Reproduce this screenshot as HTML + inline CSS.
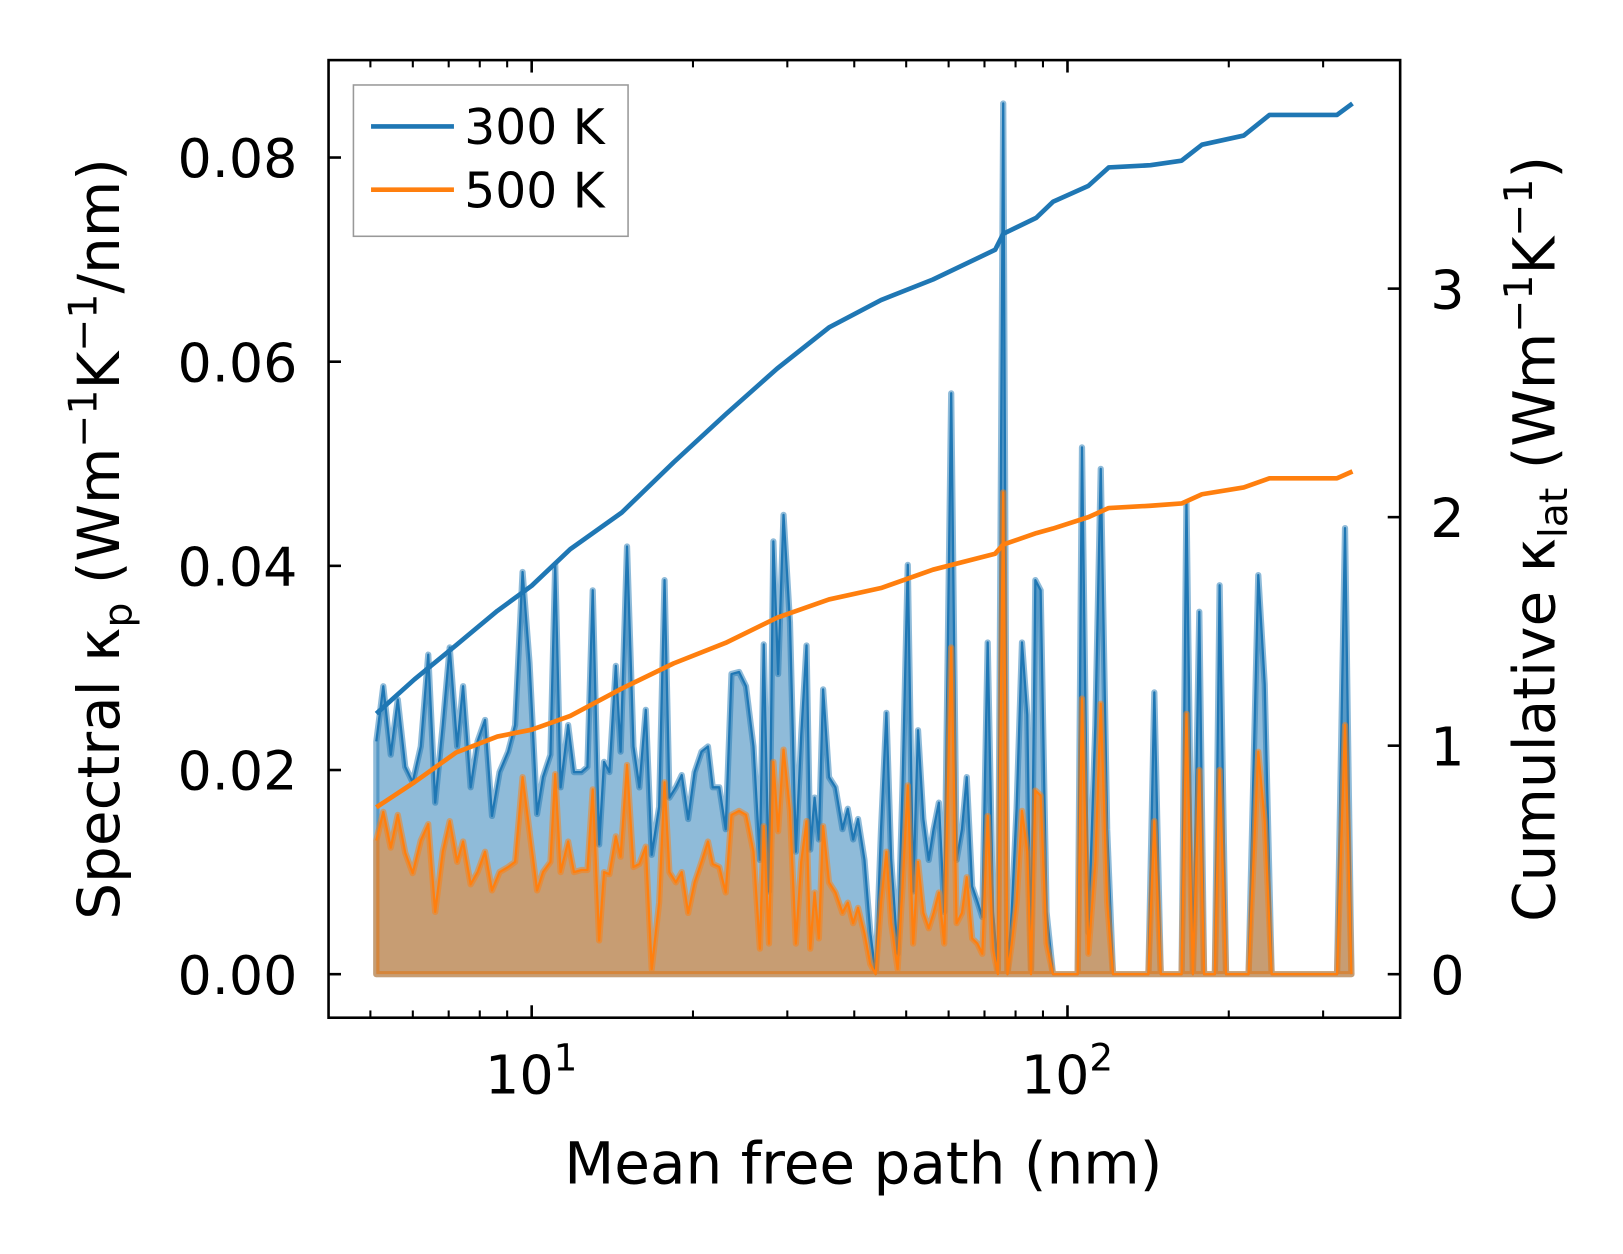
<!DOCTYPE html>
<html><head><meta charset="utf-8"><style>
html,body{margin:0;padding:0;background:#fff}
svg{display:block}
text{font-family:"DejaVu Sans","Liberation Sans",sans-serif;fill:#000}
</style></head><body>
<svg id="chart" width="1623" height="1254" viewBox="0 0 1566 1210" xmlns="http://www.w3.org/2000/svg">
<g id="marks"></g>
<g id="axes"></g>
</svg>
<script>
// spectral data: log10 of mean free path (nm)
const specLogMfp = [0.710,0.723,0.737,0.750,0.764,0.778,0.793,0.807,0.820,0.834,0.847,0.861,0.872,0.886,0.899,0.913,0.926,0.940,0.956,0.969,0.983,0.996,1.010,1.021,1.035,1.044,1.054,1.068,1.079,1.093,1.104,1.114,1.126,1.135,1.145,1.157,1.166,1.178,1.190,1.201,1.213,1.224,1.238,1.248,1.257,1.269,1.280,1.292,1.304,1.317,1.329,1.338,1.350,1.362,1.373,1.387,1.400,1.414,1.426,1.433,1.443,1.451,1.460,1.470,1.482,1.493,1.503,1.513,1.520,1.528,1.536,1.544,1.555,1.567,1.580,1.590,1.600,1.609,1.621,1.632,1.642,1.652,1.662,1.671,1.683,1.692,1.702,1.712,1.721,1.731,1.741,1.750,1.760,1.770,1.783,1.793,1.803,1.812,1.822,1.832,1.841,1.851,1.861,1.870,1.880,1.888,1.896,1.905,1.915,1.925,1.932,1.940,1.950,1.961,1.973,2.019,2.027,2.039,2.052,2.062,2.074,2.085,2.151,2.162,2.174,2.213,2.222,2.234,2.246,2.255,2.275,2.284,2.296,2.338,2.356,2.368,2.381,2.503,2.518,2.530];
const spec300 = [.0228,.0282,.0215,.0269,.0203,.0188,.0223,.0313,.0168,.0244,.0320,.0223,.0282,.0183,.0228,.0249,.0155,.0198,.0218,.0244,.0394,.0305,.0157,.0193,.0215,.0401,.0183,.0244,.0198,.0198,.0203,.0376,.0127,.0208,.0198,.0302,.0218,.0419,.0223,.0183,.0259,.0117,.0164,.0386,.0173,.0183,.0195,.0152,.0198,.0218,.0223,.0183,.0183,.0142,.0294,.0296,.0282,.0223,.0112,.0323,.0081,.0424,.0294,.0450,.0345,.0120,.0234,.0322,.0122,.0173,.0132,.0279,.0193,.0183,.0142,.0162,.0132,.0152,.0112,.0041,0,.0142,.0256,.0112,.0020,.0183,.0401,.0081,.0239,.0152,.0112,.0142,.0168,.0061,.0569,.0112,.0142,.0193,.0086,.0071,.0056,.0325,.0061,.0005,.0853,0,.0061,.0162,.0325,.0254,.0005,.0386,.0376,.0061,0,0,.0516,.0041,.0244,.0495,.0142,0,0,.0276,0,0,.0462,0,.0355,0,0,.0381,0,0,.0391,.0284,0,0,.0437,0];
const spec500 = [.0131,.0159,.0124,.0156,.0119,.0099,.0131,.0147,.0061,.0120,.0150,.0110,.0130,.0088,.0100,.0120,.0082,.0100,.0105,.0110,.0193,.0140,.0082,.0100,.0110,.0196,.0100,.0130,.0100,.0102,.0102,.0181,.0033,.0100,.0098,.0135,.0115,.0205,.0105,.0108,.0125,.0005,.0070,.0188,.0100,.0090,.0100,.0060,.0090,.0110,.0130,.0108,.0105,.0080,.0156,.0160,.0156,.0120,.0025,.0145,.0030,.0208,.0140,.0220,.0160,.0030,.0110,.0150,.0025,.0080,.0035,.0145,.0090,.0080,.0060,.0070,.0050,.0065,.0040,.0010,0,.0070,.0120,.0050,.0005,.0085,.0185,.0030,.0110,.0060,.0045,.0060,.0080,.0030,.0320,.0050,.0060,.0095,.0035,.0030,.0020,.0155,.0025,0,.0472,0,.0030,.0070,.0160,.0120,0,.0180,.0175,.0030,0,0,.0270,.0020,.0110,.0265,.0070,0,0,.0150,0,0,.0255,0,.0200,0,0,.0200,0,0,.0218,.0150,0,0,.0244,0];
// cumulative data
const cumLogMfp = [0.710,0.781,0.859,0.936,1.000,1.072,1.168,1.265,1.362,1.458,1.555,1.652,1.749,1.865,1.880,1.942,1.973,2.039,2.077,2.155,2.213,2.251,2.329,2.377,2.503,2.532];
const cum300 = [1.14,1.29,1.44,1.59,1.70,1.86,2.02,2.24,2.45,2.65,2.83,2.95,3.04,3.17,3.24,3.31,3.38,3.45,3.53,3.54,3.56,3.63,3.67,3.76,3.76,3.81];
const cum500 = [0.73,0.84,0.97,1.04,1.07,1.13,1.25,1.36,1.45,1.56,1.64,1.69,1.77,1.84,1.88,1.93,1.95,2.00,2.04,2.05,2.06,2.10,2.13,2.17,2.17,2.20];
const leftTicks = [0,0.02,0.04,0.06,0.08];
const leftTickLabels = ["0.00","0.02","0.04","0.06","0.08"];
const rightTicks = [0,1,2,3];
const xMajor = [10,100];
const xMinor = [5,6,7,8,9,20,30,40,50,60,70,80,90,200,300];

const NS="http://www.w3.org/2000/svg";
const L=317,R=1351,T=58,B=982;
function xs(logv){return 513+(logv-1)*517;}
function yl(v){return 940-v/0.02*197;}
function yr(v){return 940-v*220.5;}
function mk(tag,attrs,parent,txt){const e=document.createElementNS(NS,tag);for(const k in attrs)e.setAttribute(k,attrs[k]);if(txt!==undefined)e.textContent=txt;parent.appendChild(e);return e;}
const marks=document.getElementById('marks'), axes=document.getElementById('axes');

function area(vals,fill,stroke,name){
  let d="M"+xs(specLogMfp[0])+","+yl(0);
  for(let i=0;i<vals.length;i++) d+=" L"+xs(specLogMfp[i]).toFixed(1)+","+yl(vals[i]).toFixed(1);
  d+=" L"+xs(specLogMfp[specLogMfp.length-1])+","+yl(0)+"Z";
  const p=mk('path',{d:d,fill:fill,stroke:stroke,'stroke-width':6,'stroke-linejoin':'round'},marks);
  
  
  let ld="";
  for(let i=0;i<vals.length;i++) ld+=(i?" L":"M")+xs(specLogMfp[i]).toFixed(1)+","+yl(vals[i]).toFixed(1);
  const l=mk('path',{d:ld,fill:'none',stroke:name==='spectral-300k'?'#1f77b4':'#ff7f0e','stroke-width':2.2,'stroke-linejoin':'round'},marks);
  
  
}
area(spec300,'rgba(31,119,180,0.5)','rgba(31,119,180,0.5)','spectral-300k');
area(spec500,'rgba(255,127,14,0.5)','rgba(255,127,14,0.5)','spectral-500k');

function cum(vals,color,name){
  let d="";
  for(let i=0;i<vals.length;i++) d+=(i?" L":"M")+xs(cumLogMfp[i]).toFixed(1)+","+yr(vals[i]).toFixed(1);
  const p=mk('path',{d:d,fill:'none',stroke:color,'stroke-width':4.5,'stroke-linejoin':'round'},marks);
  
  
}
cum(cum300,'#1f77b4','cumulative-300k-line');
cum(cum500,'#ff7f0e','cumulative-500k-line');

// frame
const fr=mk('rect',{x:L,y:T,width:R-L,height:B-T,fill:'none',stroke:'#000','stroke-width':2.5},axes);


leftTicks.forEach((v,i)=>{
  const y=yl(v);
  mk('line',{x1:L,x2:L+12,y1:y,y2:y,stroke:'#000','stroke-width':2.5},axes);
  const t=mk('text',{x:L-30,y:y+19,'font-size':52,'text-anchor':'end'},axes,leftTickLabels[i]);
  
  
});
rightTicks.forEach(v=>{
  const y=yr(v);
  mk('line',{x1:R-12,x2:R,y1:y,y2:y,stroke:'#000','stroke-width':2.5},axes);
  const t=mk('text',{x:R+29,y:y+19,'font-size':52},axes,String(v));
  
  
});
xMajor.forEach(v=>{
  const x=xs(Math.log10(v));
  mk('line',{x1:x,x2:x,y1:B,y2:B-12,stroke:'#000','stroke-width':2.5},axes);
  mk('line',{x1:x,x2:x,y1:T,y2:T+12,stroke:'#000','stroke-width':2.5},axes);
  const t=mk('text',{x:x-45,y:B+73,'font-size':52},axes);
  
  
  t.appendChild(document.createTextNode('10'));
  mk('tspan',{dy:-22,'font-size':36},t,String(Math.round(Math.log10(v))));
});
xMinor.forEach(v=>{
  const x=xs(Math.log10(v));
  mk('line',{x1:x,x2:x,y1:B,y2:B-7,stroke:'#000','stroke-width':2},axes);
  mk('line',{x1:x,x2:x,y1:T,y2:T+7,stroke:'#000','stroke-width':2},axes);
});
</script>
<svg style="position:absolute;left:0;top:0" width="1623" height="1254" viewBox="0 0 1566 1210" xmlns="http://www.w3.org/2000/svg">
<text x="833" y="1142" font-size="56" text-anchor="middle">Mean free path (nm)</text>
<text transform="translate(115,520) rotate(-90)" font-size="56" text-anchor="middle">Spectral κ<tspan font-size="38" dy="12">p</tspan><tspan dy="-12"> (Wm</tspan><tspan font-size="38" dy="-22">−1</tspan><tspan dy="22">K</tspan><tspan font-size="38" dy="-22">−1</tspan><tspan dy="22">/nm)</tspan></text>
<text transform="translate(1500,520) rotate(-90)" font-size="56" text-anchor="middle">Cumulative κ<tspan font-size="38" dy="12">lat</tspan><tspan dy="-12"> (Wm</tspan><tspan font-size="38" dy="-22">−1</tspan><tspan dy="22">K</tspan><tspan font-size="38" dy="-22">−1</tspan><tspan dy="22">)</tspan></text>
<g>
<rect x="341" y="82" width="265" height="146" fill="#fff" fill-opacity="0.8" stroke="#999" stroke-width="1.5"/>
<g><line x1="358" x2="438" y1="122" y2="122" stroke="#1f77b4" stroke-width="4.5"/><text x="448" y="139" font-size="47">300 K</text></g>
<g><line x1="358" x2="438" y1="183" y2="183" stroke="#ff7f0e" stroke-width="4.5"/><text x="448" y="200" font-size="47">500 K</text></g>
</g>
</svg>
</body></html>
